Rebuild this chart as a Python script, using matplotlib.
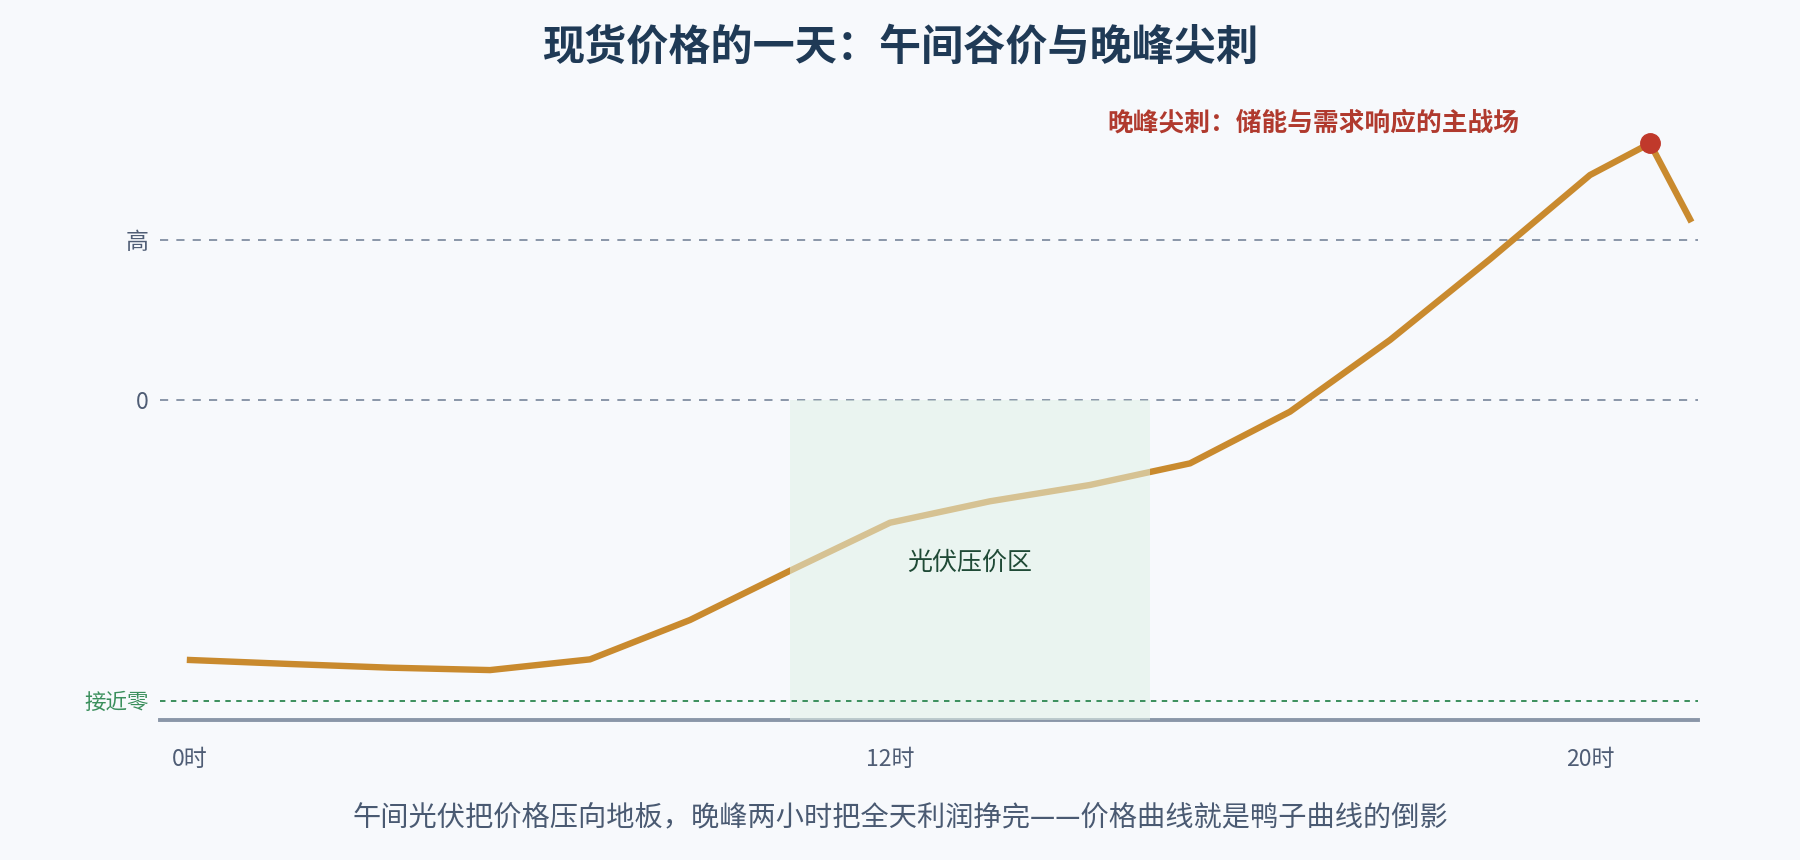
import matplotlib
matplotlib.use("Agg")
import matplotlib.pyplot as plt

plt.rcParams['font.family'] = ['Noto Sans CJK SC', 'DejaVu Sans']

# time slots (category positions) and relative price level
slots = [0, 1, 2, 3, 4, 5, 6, 7, 8, 9, 10, 11, 12, 13, 14, 14.6, 15]
price = [-162.5, -165, -167.3, -168.8, -162.1, -137.5, -106.7, -76.7, -63.3,
         -53.1, -39.6, -7.3, 37.5, 88, 140.6, 160.4, 113]

x_ticks = [0, 7, 14]
x_labels = ["0时", "12时", "20时"]

y_ticks = [-188, 0, 100]
y_labels = ["接近零", "0", "高"]

solar_zone = (6, 9.6)
peak_x, peak_y = 14.6, 160.4

bg = "#f7f9fc"
line_color = "#c98a2e"
grid_color = "#8a96a8"
green = "#3a8f5c"

fig = plt.figure(figsize=(18, 8.6), dpi=100, facecolor=bg)
ax = fig.add_axes([160 / 1800, 140 / 860, 1538 / 1800, 608 / 860])
ax.set_facecolor(bg)

ax.set_xlim(-0.3, 15.08)
ax.set_ylim(-200, 180)

# reference lines
ax.axhline(100, color=grid_color, lw=1.4, ls=(0, (4.2, 4.2)), zorder=1)
ax.axhline(0, color=grid_color, lw=1.4, ls=(0, (4.2, 4.2)), zorder=1)

# price curve
ax.plot(slots, price, color=line_color, lw=4.6, solid_joinstyle='miter', zorder=2)

# solar suppression zone, drawn over the line so it washes it out
ax.fill_between(solar_zone, -200, 0, color="#e1f1e7", alpha=0.55, lw=0, zorder=3)
ax.text(sum(solar_zone) / 2, -102, "光伏压价区", ha='center', va='center',
        fontsize=18, color="#1f4a36", zorder=5)

ax.axhline(-188, color=green, lw=1.4, ls=(0, (2.8, 2.8)), zorder=4)

# evening spike
ax.plot(peak_x, peak_y, 'o', color="#c0392b", ms=14, zorder=6)
ax.text(13.29, 173, "晚峰尖刺：储能与需求响应的主战场", ha='right', va='center',
        fontsize=18.5, fontweight='bold', color="#b03a2e", zorder=6)

# axes styling
for side in ['top', 'right', 'left']:
    ax.spines[side].set_visible(False)
ax.spines['bottom'].set_color(grid_color)
ax.spines['bottom'].set_linewidth(2.8)

ax.set_xticks(x_ticks)
ax.set_xticklabels(x_labels, fontsize=16.5, color="#4f5d75")
ax.tick_params(axis='x', length=0, pad=20)

ax.set_yticks(y_ticks)
ax.set_yticklabels(y_labels, fontsize=16.5)
ax.tick_params(axis='y', length=0, pad=8)
for lbl, c in zip(ax.get_yticklabels(), [green, "#4f5d75", "#4f5d75"]):
    lbl.set_color(c)
ax.get_yticklabels()[0].set_fontsize(15.5)

fig.text(0.5, 1 - 48 / 860, "现货价格的一天：午间谷价与晚峰尖刺", ha='center', va='center',
         fontsize=30.3, fontweight='bold', color="#1f3a56")
fig.text(0.5, 1 - 818 / 860,
         "午间光伏把价格压向地板，晚峰两小时把全天利润挣完——价格曲线就是鸭子曲线的倒影",
         ha='center', va='center', fontsize=20.3, color="#4a5a72")

fig.savefig("out.png", dpi=100, facecolor=bg)
